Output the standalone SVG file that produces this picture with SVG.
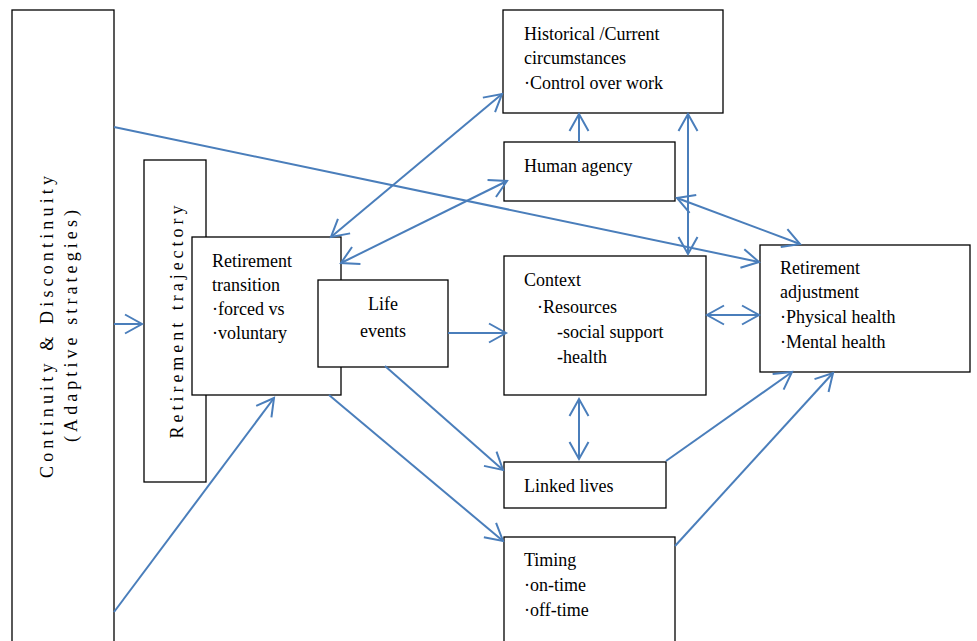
<svg xmlns="http://www.w3.org/2000/svg" width="977" height="641" viewBox="0 0 977 641">
<style>
.box{fill:#fff;stroke:#000;stroke-width:1.3}
text{font-family:Liberation Serif, Times New Roman, Times, DejaVu Serif, serif;font-size:18px;fill:#000}
.c{fill:none;stroke:#4A7EBB;stroke-width:2}
</style>
<defs>
<marker id="a" markerUnits="userSpaceOnUse" markerWidth="40" markerHeight="40" refX="0" refY="0" viewBox="-20 -20 40 40" orient="auto-start-reverse" overflow="visible">
<path d="M-17,-9.5 L0,0 L-17,9.5" fill="none" stroke="#4A7EBB" stroke-width="2"/>
</marker>
</defs>
<rect width="977" height="641" fill="#fff"/>
<g id="continuity">
<rect class="box" x="12" y="10" width="102" height="632"/>
<text font-family="Liberation Serif" transform="translate(53,327) rotate(-90)" text-anchor="middle" textLength="302" lengthAdjust="spacing">Continuity &amp; Discontinuity</text>
<text font-family="Liberation Serif" transform="translate(77,326) rotate(-90)" text-anchor="middle" textLength="232" lengthAdjust="spacing">(Adaptive strategies)</text>
</g>
<g id="trajectory">
<rect class="box" x="144" y="160" width="62" height="322"/>
<text font-family="Liberation Serif" transform="translate(183,322) rotate(-90)" text-anchor="middle" textLength="233" lengthAdjust="spacing">Retirement trajectory</text>
</g>
<g id="transition" font-family="Liberation Serif">
<rect class="box" x="192" y="237" width="149" height="158"/>
<text x="212" y="267">Retirement</text>
<text x="212" y="291">transition</text>
<text x="212" y="315">·forced vs</text>
<text x="212" y="339">·voluntary</text>
</g>
<g id="life-events" font-family="Liberation Serif">
<rect class="box" x="318" y="280" width="130" height="87"/>
<text x="383" y="310" text-anchor="middle">Life</text>
<text x="383" y="337" text-anchor="middle">events</text>
</g>
<g id="historical" font-family="Liberation Serif">
<rect class="box" x="503" y="10" width="220" height="103"/>
<text x="524" y="40">Historical /Current</text>
<text x="524" y="64">circumstances</text>
<text x="524" y="89">·Control over work</text>
</g>
<g id="human-agency" font-family="Liberation Serif">
<rect class="box" x="504" y="142" width="171" height="59"/>
<text x="524" y="172">Human agency</text>
</g>
<g id="context" font-family="Liberation Serif">
<rect class="box" x="504" y="256" width="202" height="139"/>
<text x="524" y="286">Context</text>
<text x="537" y="313">·Resources</text>
<text x="557" y="338">-social support</text>
<text x="557" y="363">-health</text>
</g>
<g id="linked-lives" font-family="Liberation Serif">
<rect class="box" x="504" y="462" width="162" height="46"/>
<text x="524" y="492">Linked lives</text>
</g>
<g id="timing" font-family="Liberation Serif">
<rect class="box" x="504" y="537" width="171" height="110"/>
<text x="524" y="566">Timing</text>
<text x="524" y="591">·on-time</text>
<text x="524" y="616">·off-time</text>
</g>
<g id="adjustment" font-family="Liberation Serif">
<rect class="box" x="760" y="245" width="210" height="127"/>
<text x="780" y="274">Retirement</text>
<text x="780" y="298">adjustment</text>
<text x="780" y="323">·Physical health</text>
<text x="780" y="348">·Mental health</text>
</g>
<g id="connectors">
<line class="c" x1="114" y1="324" x2="142" y2="324" marker-end="url(#a)"/>
<line class="c" x1="114" y1="127" x2="759" y2="262" marker-end="url(#a)"/>
<line class="c" x1="114" y1="612" x2="274" y2="398" marker-end="url(#a)"/>
<line class="c" x1="331" y1="237" x2="502" y2="94" marker-start="url(#a)" marker-end="url(#a)"/>
<line class="c" x1="341" y1="263" x2="507" y2="181" marker-start="url(#a)" marker-end="url(#a)"/>
<line class="c" x1="579" y1="142" x2="579" y2="114" marker-end="url(#a)"/>
<line class="c" x1="688" y1="114" x2="688" y2="254" marker-start="url(#a)" marker-end="url(#a)"/>
<line class="c" x1="677" y1="198" x2="800" y2="244" marker-start="url(#a)" marker-end="url(#a)"/>
<line class="c" x1="707" y1="315" x2="759" y2="315" marker-start="url(#a)" marker-end="url(#a)"/>
<line class="c" x1="448" y1="333" x2="506" y2="333" marker-end="url(#a)"/>
<line class="c" x1="385" y1="366" x2="503" y2="470" marker-end="url(#a)"/>
<line class="c" x1="329" y1="395" x2="503" y2="541" marker-end="url(#a)"/>
<line class="c" x1="579" y1="399" x2="579" y2="459" marker-start="url(#a)" marker-end="url(#a)"/>
<line class="c" x1="666" y1="461" x2="792" y2="372" marker-end="url(#a)"/>
<line class="c" x1="675" y1="546" x2="833" y2="373" marker-end="url(#a)"/>
</g>
</svg>
